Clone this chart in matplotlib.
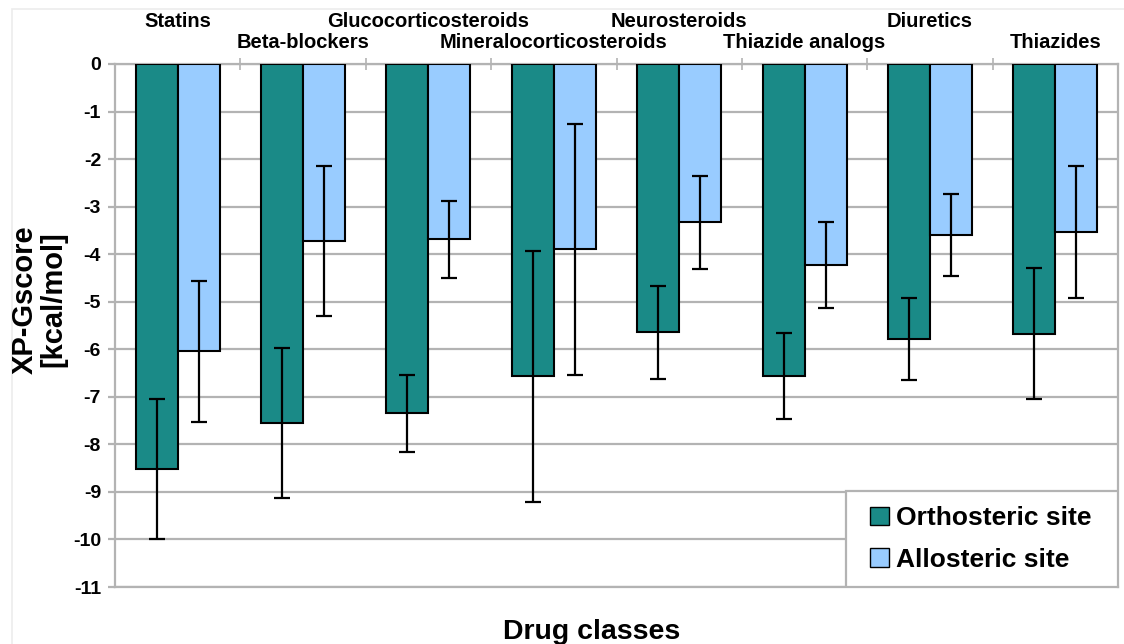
import numpy as np
import matplotlib
matplotlib.use("Agg")
import matplotlib.pyplot as plt
from matplotlib.patches import Rectangle

plt.rcParams['font.family'] = ['Liberation Sans', 'DejaVu Sans']
plt.rcParams['font.weight'] = 'bold'
plt.rcParams['axes.unicode_minus'] = False

# data
classes = ['Statins', 'Beta-blockers', 'Glucocorticosteroids', 'Mineralocorticosteroids',
           'Neurosteroids', 'Thiazide analogs', 'Diuretics', 'Thiazides']
ortho = [-8.52, -7.55, -7.35, -6.57, -5.64, -6.56, -5.78, -5.67]
ortho_err = [1.47, 1.58, 0.81, 2.64, 0.98, 0.90, 0.86, 1.38]
allo = [-6.04, -3.73, -3.69, -3.90, -3.33, -4.23, -3.60, -3.54]
allo_err = [1.48, 1.58, 0.81, 2.64, 0.98, 0.90, 0.86, 1.39]

teal = '#1a8a87'
lightblue = '#99ccff'
grid_gray = '#b3b3b3'

fig = plt.figure(figsize=(11.24, 6.44), dpi=100)
ax = fig.add_axes([115 / 1124, 57 / 644, 1003 / 1124, 523 / 644])

# faint chart-area frame
fig.patches.append(Rectangle((12 / 1124, -0.1), 1.2, 1 - 9 / 644 + 0.1, transform=fig.transFigure,
                             fill=False, edgecolor='#ececec', linewidth=1.2, zorder=0))

x = np.arange(len(classes))
w = 0.335
ax.bar(x - w / 2, ortho, w, color=teal, edgecolor='black', linewidth=1.5,
       label='Orthosteric site', zorder=3)
ax.bar(x + w / 2, allo, w, color=lightblue, edgecolor='black', linewidth=1.5,
       label='Allosteric site', zorder=3)
ax.errorbar(x - w / 2, ortho, yerr=ortho_err, fmt='none', ecolor='black',
            elinewidth=1.6, capsize=5.5, capthick=1.6, zorder=4)
ax.errorbar(x + w / 2, allo, yerr=allo_err, fmt='none', ecolor='black',
            elinewidth=1.6, capsize=5.5, capthick=1.6, zorder=4)

ax.set_xlim(-0.5, len(classes) - 0.5)
ax.set_ylim(-11, 0)
ax.set_yticks(np.arange(0, -12, -1))
ax.yaxis.grid(True, color=grid_gray, linewidth=1.6, zorder=0)
ax.set_axisbelow(True)

for s in ax.spines.values():
    s.set_color(grid_gray)
    s.set_linewidth(1.6)

ax.tick_params(axis='y', colors=grid_gray, length=5, width=1.6, labelsize=14, pad=5)
for lab in ax.get_yticklabels():
    lab.set_color('black')
    lab.set_fontweight('bold')

# category separators on the top line
ax.set_xticks([])
ax.set_xticks(np.arange(0.5, len(classes) - 0.5, 1), minor=True)
ax.tick_params(axis='x', which='minor', bottom=False, top=True, direction='inout',
               length=9, width=1.2, colors=grid_gray)

# staggered category labels above the plot
for i, name in enumerate(classes):
    yb = 1 - 27 / 644 if i % 2 == 0 else 1 - 48 / 644
    fig.text(ax.transData.transform((i, 0))[0] / fig.bbox.width, yb, name,
             ha='center', va='baseline', fontsize=14.5, fontweight='bold')

fig.text(39 / 1124, 0.535, 'XP-Gscore\n[kcal/mol]', rotation=90, ha='center', va='center',
         fontsize=21, fontweight='bold', linespacing=1.0)
fig.text(592 / 1124, 1 - 632 / 644, 'Drug classes', ha='center', va='center',
         fontsize=20.5, fontweight='bold')

# legend box flush with the lower right corner
ax.add_patch(Rectangle((846 / 1124, 1 - 587 / 644), 272 / 1124, 96 / 644,
                       transform=fig.transFigure, facecolor='white', edgecolor=grid_gray,
                       linewidth=1.6, zorder=5))
leg = ax.legend(loc='center', bbox_to_anchor=(981 / 1124, 1 - 539 / 644),
                bbox_transform=fig.transFigure, frameon=False,
                prop={'size': 19, 'weight': 'bold'}, handlelength=0.7, handleheight=0.7,
                handletextpad=0.3, labelspacing=0.65, borderpad=0)
leg.set_zorder(6)
for h in leg.legend_handles:
    h.set_linewidth(1.0)

fig.savefig('out.png', dpi=100)
